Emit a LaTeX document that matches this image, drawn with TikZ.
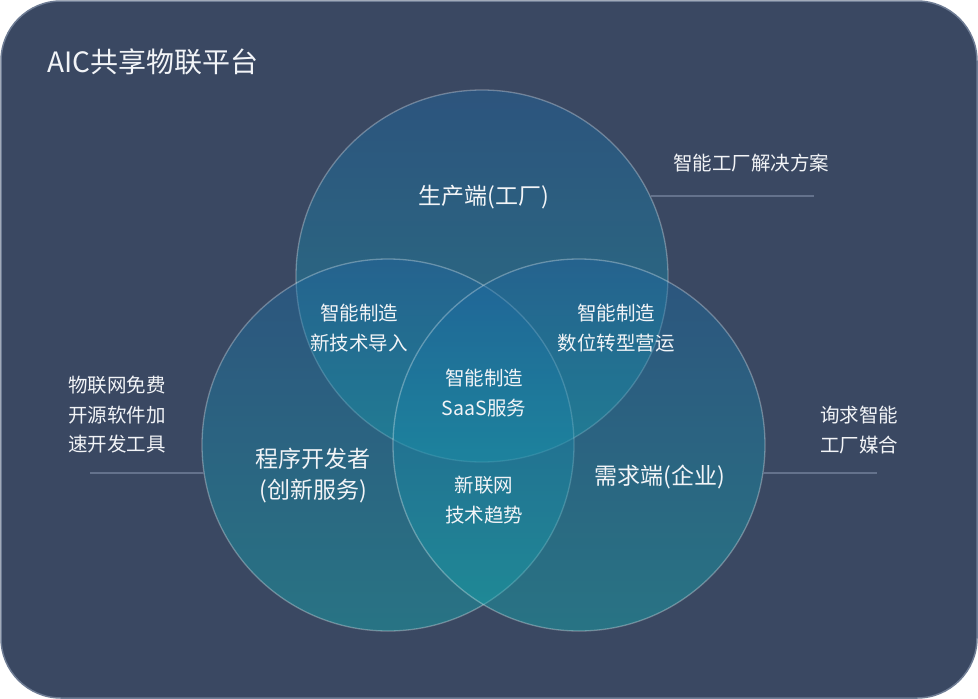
\documentclass[tikz,border=0pt]{standalone}
\usepackage{fontspec}
\setmainfont{Noto Sans CJK SC}
\usepackage{tikz}
\usetikzlibrary{positioning}
\definecolor{AICBack}{RGB}{58,72,98}
\definecolor{AICEdge}{RGB}{110,124,148}
\definecolor{AICLine}{RGB}{100,114,140}
\definecolor{AICBlue}{RGB}{30,100,160}
\definecolor{AICTeal}{RGB}{20,170,175}
\definecolor{AICText}{RGB}{242,244,247}
\tikzset{
  venn/.style={circle,minimum size=372pt,inner sep=0pt,outer sep=0pt,draw=white,draw opacity=0.3,line width=1.3pt,top color=AICBlue,bottom color=AICTeal,fill opacity=0.45},
  bigtxt/.style={text=AICText,align=center,inner sep=0pt,font=\fontsize{23}{31}\selectfont},
  smalltxt/.style={text=AICText,align=center,inner sep=0pt,font=\fontsize{19.5}{30}\selectfont},
  sidetxt/.style={text=AICText,align=left,anchor=west,inner sep=0pt,font=\fontsize{19.5}{29.5}\selectfont},
  guideline/.style={AICLine,line width=1.6pt},
}
\begin{document}
\begin{tikzpicture}[x=1pt,y=-1pt]
  \useasboundingbox (0,0) rectangle (978,699);
  \draw[AICEdge,fill=AICBack,line width=1.5pt,rounded corners=60pt] (1,1) rectangle (977,698);
  \node[text=AICText,anchor=west,inner sep=0pt,font=\fontsize{28}{30}\selectfont] (title) at (47,62) {AIC共享物联平台};

  % three circles
  \node[venn] (factory) at (482,276) {};
  \node[venn] (maker) at (388,445) {};
  \node[venn] (demand) at (579,445) {};

  % circle labels
  \node[bigtxt] (factorytxt) at (484,197) {生产端(工厂)};
  \node[bigtxt] (makertxt) at (313,476) {程序开发者\\(创新服务)};
  \node[bigtxt] (demandtxt) at (660,477) {需求端(企业)};

  % overlap labels
  \node[smalltxt] (leftcap) at (359,328) {智能制造\\新技术导入};
  \node[smalltxt] (rightcap) at (616,328) {智能制造\\数位转型营运};
  \node[smalltxt] (core) at (484,393) {智能制造\\SaaS服务};
  \node[smalltxt] (lowcap) at (484,500) {新联网\\技术趋势};

  % side notes
  \node[text=AICText,anchor=west,inner sep=0pt,font=\fontsize{19.5}{30}\selectfont] (factorynote) at (673,163) {智能工厂解决方案};
  \node[sidetxt] (makernote) at (68,415) {物联网免费\\开源软件加\\速开发工具};
  \node[sidetxt] (demandnote) at (820,430) {询求智能\\工厂媒合};

  \coordinate (factoryend) at (814,196);
  \coordinate (makerend) at (90,473);
  \coordinate (demandend) at (877,473);
  \draw[guideline] (factory.25.5 |- factoryend) -- (factoryend);
  \draw[guideline] (maker.-171.3 |- makerend) -- (makerend);
  \draw[guideline] (demand.-8.7 |- demandend) -- (demandend);
\end{tikzpicture}
\end{document}
